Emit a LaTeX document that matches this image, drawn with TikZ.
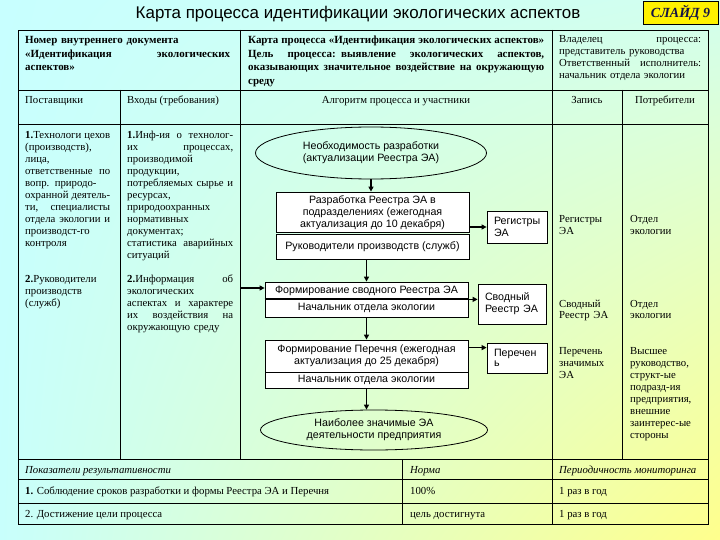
\documentclass[tikz,border=0pt]{standalone}
\usepackage{fontspec}
\setmainfont{Liberation Serif}
\newfontfamily\sansf{Liberation Sans}
\usetikzlibrary{shapes.geometric,arrows.meta,shadings}
\definecolor{navy}{RGB}{20,20,70}
\definecolor{bgA}{RGB}{200,255,255}
\definecolor{bgB}{RGB}{210,255,238}
\definecolor{bgC}{RGB}{200,255,252}
\definecolor{bgD}{RGB}{255,255,140}
\newcommand{\jl}[2]{\leavevmode\hbox to #1{\spaceskip=0.25em plus 3em\relax #2}}
\begin{document}
\begin{tikzpicture}[x=1bp,y=-1bp,
  tl/.style={line width=0.9bp, draw=black},
  cell/.style={anchor=base west, inner sep=0pt, align=left, font=\fontsize{10.8}{12}\selectfont},
  hcell/.style={cell, font=\bfseries\fontsize{11}{13.5}\selectfont},
  fbox/.style={draw, fill=white, line width=0.8bp, inner sep=0pt, align=center, font=\sansf\fontsize{10.7}{12}\selectfont},
  fell/.style={ellipse, draw, line width=0.8bp, inner sep=0pt, align=center, font=\sansf\fontsize{10.7}{12}\selectfont},
  arr/.style={-{Triangle[length=5bp,width=5bp]}, line width=1.3bp}]
\useasboundingbox (0,0) rectangle (720,540);
\shade[upper left=bgA, upper right=bgB, lower left=bgC, lower right=bgD] (0,0) rectangle (720,540);

% title and slide tag
\node[font=\sansf\fontsize{17}{20}\selectfont, inner sep=0pt] (title) at (358,14) {Карта процесса идентификации экологических аспектов};
\node[draw, fill=yellow, line width=0.8bp, minimum width=75bp, minimum height=23bp, inner sep=0pt, text=navy, font=\bfseries\itshape\fontsize{14}{16}\selectfont] (slide) at (680.5,12.5) {СЛАЙД 9};

% table grid
\draw[tl] (18,30) rectangle (708,524);
\draw[tl] (18,90) -- (708,90);
\draw[tl] (18,124) -- (708,124);
\draw[tl] (18,459) -- (708,459);
\draw[tl] (18,479) -- (708,479);
\draw[tl] (18,503) -- (708,503);
\draw[tl] (240,30) -- (240,459);
\draw[tl] (552,30) -- (552,524);
\draw[tl] (120,90) -- (120,459);
\draw[tl] (622,90) -- (622,459);
\draw[tl] (402,459) -- (402,524);

% header row 1
\node[hcell, text width=205bp] (h1a) at (25,44) {Номер внутреннего документа\\\jl{205bp}{«Идентификация экологических}\\аспектов»};
\node[hcell, text width=296bp] (h1b) at (248,44) {\jl{296bp}{Карта процесса «Идентификация экологических аспектов»}\\\jl{296bp}{Цель процесса: выявление экологических аспектов,}\\\jl{296bp}{оказывающих значительное воздействие на окружающую}\\среду};
\node[cell, text width=142bp] (h1c) at (559,43) {\jl{142bp}{Владелец процесса:}\\представитель руководства\\\jl{142bp}{Ответственный исполнитель:}\\начальник отдела экологии};

% header row 2
\node[cell] (h2a) at (25,103.5) {Поставщики};
\node[cell] (h2b) at (127,103.5) {Входы (требования)};
\node[cell, anchor=base] (h2c) at (396,103.5) {Алгоритм процесса и участники};
\node[cell, anchor=base] (h2d) at (587,103.5) {Запись};
\node[cell, anchor=base] (h2e) at (665,103.5) {Потребители};

% suppliers / inputs
\node[cell, text width=85bp] (s1) at (25,139) {\jl{85bp}{\textbf{1.}Технологи цехов}\\(производств),\\лица,\\\jl{85bp}{ответственные по}\\\jl{85bp}{вопр. природо-}\\\jl{85bp}{охранной деятель-}\\\jl{85bp}{ти, специалисты}\\\jl{85bp}{отдела экологии и}\\производст-го\\контроля};
\node[cell, text width=106bp] (i1) at (127,139) {\jl{106bp}{\textbf{1.}Инф-ия о технолог-}\\\jl{106bp}{их процессах,}\\производимой\\продукции,\\\jl{106bp}{потребляемых сырье и}\\ресурсах,\\природоохранных\\нормативных\\документах;\\\jl{106bp}{статистика аварийных}\\ситуаций};
\node[cell, text width=85bp] (s2) at (25,283) {\textbf{2.}Руководители\\производств\\(служб)};
\node[cell, text width=106bp] (i2) at (127,283) {\jl{106bp}{\textbf{2.}Информация об}\\экологических\\\jl{106bp}{аспектах и характере}\\\jl{106bp}{их воздействия на}\\окружающую среду};

% records / consumers
\node[cell, text width=60bp] (r1) at (559,223) {Регистры\\ЭА};
\node[cell, text width=80bp] (c1) at (630,223) {Отдел\\экологии};
\node[cell, text width=60bp] (r2) at (559,307) {Сводный\\Реестр ЭА};
\node[cell, text width=80bp] (c2) at (630,307) {Отдел\\экологии};
\node[cell, text width=60bp] (r3) at (559,354.5) {Перечень\\значимых\\ЭА};
\node[cell, text width=80bp] (c3) at (630,354.5) {Высшее\\руководство,\\структ-ые\\подразд-ия\\предприятия,\\внешние\\заинтерес-ые\\стороны};

% flow chart
\node[fell, minimum width=231bp, minimum height=52bp] (e1) at (371,153) {Необходимость разработки\\(актуализации Реестра ЭА)};
\node[fbox, minimum width=193bp, minimum height=40.5bp] (b1) at (372.5,212.25) {Разработка Реестра ЭА в\\подразделениях (ежегодная\\актуализация до 10 декабря)};
\node[fbox, minimum width=193bp, minimum height=25bp] (b1b) at (372.5,246.5) {Руководители производств (служб)};
\node[fbox, align=left, text width=46bp, inner xsep=7bp, minimum height=32bp] (reg) at (517,227) {Регистры\\ЭА};
\node[fbox, minimum width=203bp, minimum height=17bp] (b2a) at (366.5,290.5) {Формирование сводного Реестра ЭА};
\node[fbox, minimum width=203bp, minimum height=18.5bp] (b2b) at (366.5,308.25) {Начальник отдела экологии};
\draw[line width=2bp] (b2a.south west) -- (b2a.south east);
\node[fbox, align=left, text width=54bp, inner xsep=7bp, minimum height=40bp] (svod) at (512,304) {Сводный\\Реестр ЭА\\[4bp]};
\node[fbox, minimum width=203bp, minimum height=32bp] (b3a) at (366.5,356) {Формирование Перечня (ежегодная\\актуализация до 25 декабря)};
\node[fbox, minimum width=203bp, minimum height=16bp] (b3b) at (366.5,380) {Начальник отдела экологии};
\node[fbox, align=left, text width=46bp, inner xsep=7bp, minimum height=30bp, font=\sansf\fontsize{10.7}{10}\selectfont] (per) at (517,358) {Перечен\\ь};
\node[fell, minimum width=227bp, minimum height=40bp] (e2) at (374,430) {Наиболее значимые ЭА\\деятельности предприятия};

\coordinate (lin) at (240,288);

% connectors
\draw[arr] (e1.south) -- (e1.south |- b1.north);
\draw[arr] (b1.east |- reg.west) -- (reg.west);
\draw[arr] (b2a.north |- b1b.south) -- (b2a.north);
\draw[arr] (lin) -- (lin -| b2a.west);
\draw[arr] (b2a.south east) -- (b2a.south east -| svod.west);
\draw[arr] (b2b.south) -- (b3a.north);
\draw[arr] ([yshift=-8bp]b3a.north east) -- ([yshift=-8bp]b3a.north east -| per.west);
\draw[arr] (b3b.south) -- (b3b.south |- e2.north);

% indicators table
\node[cell, font=\itshape\fontsize{10.8}{12}\selectfont] (p0) at (25,473.5) {Показатели результативности};
\node[cell, font=\itshape\fontsize{10.8}{12}\selectfont] (n0) at (410,473.5) {Норма};
\node[cell, font=\itshape\fontsize{10.8}{12}\selectfont] (m0) at (559,473.5) {Периодичность мониторинга};
\node[cell] (p1) at (25,494.5) {\textbf{1.} Соблюдение сроков разработки и формы Реестра ЭА и Перечня};
\node[cell] (n1) at (410,494.5) {100\%};
\node[cell] (m1) at (559,494.5) {1 раз в год};
\node[cell] (p2) at (25,517.5) {2. Достижение цели процесса};
\node[cell] (n2) at (410,517.5) {цель достигнута};
\node[cell] (m2) at (559,517.5) {1 раз в год};
\end{tikzpicture}
\end{document}
